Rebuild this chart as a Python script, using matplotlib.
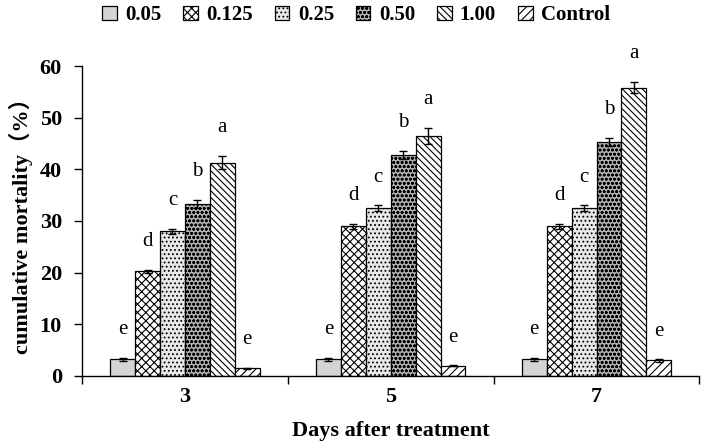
import matplotlib
matplotlib.use("Agg")
import matplotlib.pyplot as plt
import numpy as np

days = ["3", "5", "7"]
series = ["0.05", "0.125", "0.25", "0.50", "1.00", "Control"]
values = {
    "0.05":    [3.2, 3.2, 3.2],
    "0.125":   [20.3, 29.0, 29.0],
    "0.25":    [28.0, 32.5, 32.5],
    "0.50":    [33.3, 42.8, 45.3],
    "1.00":    [41.3, 46.5, 55.8],
    "Control": [1.5, 2.0, 3.0],
}
errors = {
    "0.05":    [0.3, 0.3, 0.3],
    "0.125":   [0.3, 0.5, 0.5],
    "0.25":    [0.5, 0.5, 0.5],
    "0.50":    [0.8, 0.8, 0.8],
    "1.00":    [1.3, 1.5, 1.1],
    "Control": [0.1, 0.1, 0.2],
}
letters = {
    "0.05": ["e", "e", "e"],
    "0.125": ["d", "d", "d"],
    "0.25": ["c", "c", "c"],
    "0.50": ["b", "b", "b"],
    "1.00": ["a", "a", "a"],
    "Control": ["e", "e", "e"],
}

styles = {
    "0.05":    dict(facecolor="#d4d4d4", hatch=None),
    "0.125":   dict(facecolor="white", hatch="xxxx"),
    "0.25":    dict(facecolor="#e8e8e8", hatch="...."),
    "0.50":    dict(facecolor="#b0b0b0", hatch="oooo"),
    "1.00":    dict(facecolor="white", hatch="\\\\\\\\\\"),
    "Control": dict(facecolor="white", hatch="////"),
}

plt.rcParams["hatch.linewidth"] = 0.8
serif = ["Liberation Serif", "Noto Sans CJK SC", "DejaVu Serif"]
plt.rcParams["font.family"] = serif

fig = plt.figure(figsize=(7.04, 4.46), dpi=100)
ax = fig.add_axes([0.1165, 0.157, 0.877, 0.695])

x = np.arange(len(days))
w = 0.121
for i, s in enumerate(series):
    pos = x + (i - 2.5) * w
    st = styles[s]
    ax.bar(pos, values[s], width=w, facecolor=st["facecolor"], hatch=st["hatch"],
           edgecolor="black", linewidth=0.9, label=s,
           yerr=errors[s], error_kw=dict(ecolor="black", elinewidth=1.0, capsize=3, capthick=1.0))
    for p, v, e, l in zip(pos, values[s], errors[s], letters[s]):
        ax.text(p, v + e + 3.6, l, ha="center", va="bottom", fontsize=15)

ax.set_xlim(-0.5, 2.5)
ax.set_ylim(0, 60)
ax.set_yticks(np.arange(0, 61, 10))
ax.set_xticks(x)
ax.set_xticklabels(days)
ax.set_xticks([-0.5, 0.5, 1.5, 2.5], minor=True)
ax.tick_params(axis="x", which="major", length=0, pad=8, labelsize=16)
ax.tick_params(axis="x", which="minor", length=6, direction="out", width=1.0)
ax.tick_params(axis="y", length=6, direction="out", labelsize=16, width=1.0, pad=8.5)
for lab in ax.get_xticklabels() + ax.get_yticklabels():
    lab.set_fontweight("bold")
ax.spines["top"].set_visible(False)
ax.spines["right"].set_visible(False)
ax.spines["left"].set_linewidth(1.0)
ax.spines["bottom"].set_linewidth(1.0)

ax.set_xlabel("Days after treatment", fontsize=16, fontweight="bold", labelpad=10)
ax.set_ylabel("cumulative mortality（%）", fontsize=16, fontweight="bold", labelpad=5)

handles, labels = ax.get_legend_handles_labels()
fig.legend(handles, labels, loc="upper center", bbox_to_anchor=(0.506, 1.03), ncol=6,
           frameon=False, handlelength=0.7, handleheight=0.7, handletextpad=0.4,
           columnspacing=1.05, prop=dict(family=serif, weight="bold", size=15))

fig.savefig("out.png", dpi=100)
